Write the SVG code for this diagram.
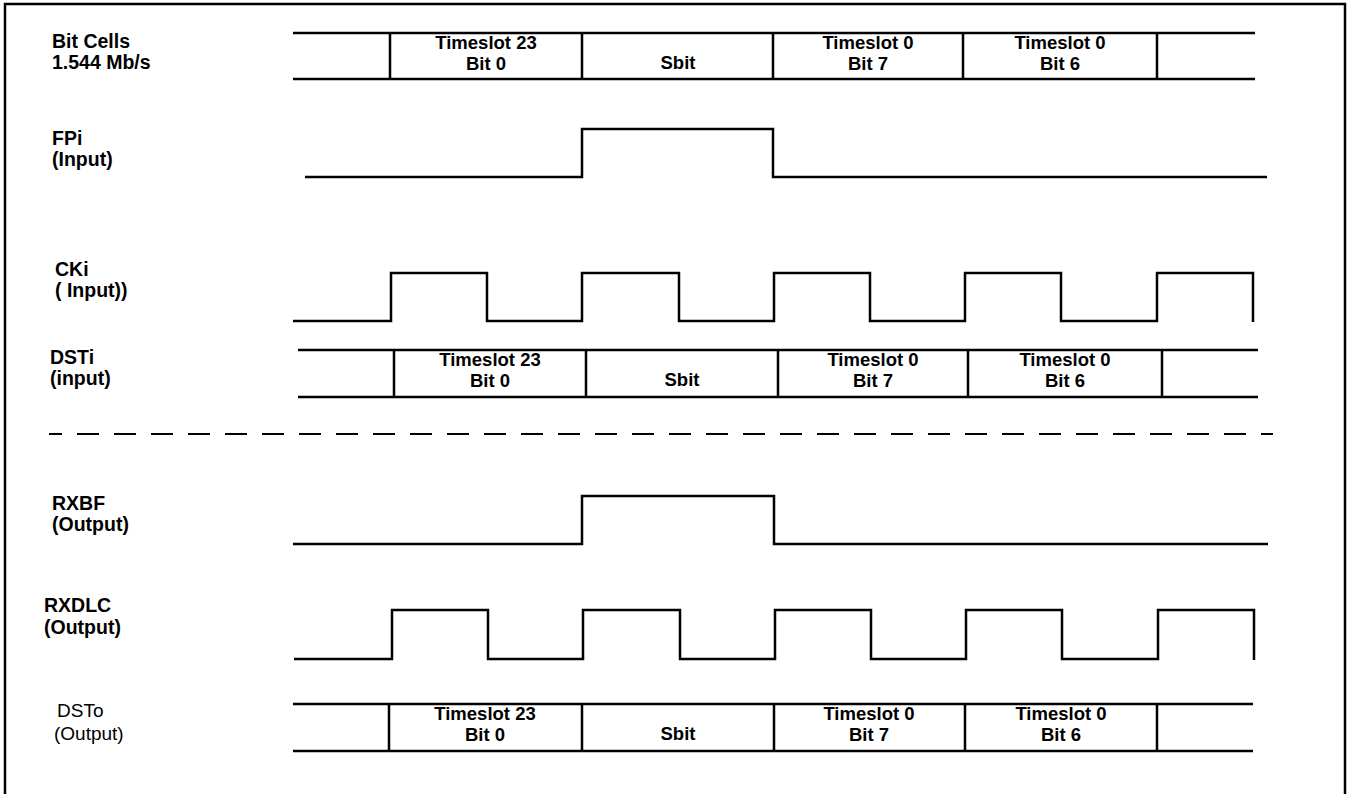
<svg xmlns="http://www.w3.org/2000/svg" width="1348" height="794" viewBox="0 0 1348 794">
<style>
.w{fill:none;stroke:#000;stroke-width:2.5;stroke-linejoin:miter;stroke-linecap:butt}
.d{fill:none;stroke:#000;stroke-width:2}
.lb{font-family:"Liberation Sans",Arial,sans-serif;font-size:19.5px;font-weight:bold;fill:#000}
.ln{font-family:"Liberation Sans",Arial,sans-serif;font-size:19px;fill:#000}
.c{font-family:"Liberation Sans",Arial,sans-serif;font-size:18.5px;font-weight:bold;fill:#000;text-anchor:middle}
</style>
<rect x="5" y="4" width="1340" height="800" fill="#fff" stroke="#000" stroke-width="2.5"/>
<g id="labels">
<text class="lb" x="52" y="48">Bit Cells</text>
<text class="lb" x="52" y="69">1.544 Mb/s</text>
<text class="lb" x="52" y="145">FPi</text>
<text class="lb" x="52" y="166">(Input)</text>
<text class="lb" x="55" y="276">CKi</text>
<text class="lb" x="55" y="297">( Input))</text>
<text class="lb" x="50" y="364">DSTi</text>
<text class="lb" x="50" y="385">(input)</text>
<text class="lb" x="52" y="510">RXBF</text>
<text class="lb" x="52" y="531">(Output)</text>
<text class="lb" x="44" y="612">RXDLC</text>
<text class="lb" x="44" y="634">(Output)</text>
<text class="ln" x="57" y="717">DSTo</text>
<text class="ln" x="54" y="740">(Output)</text>
</g>
<g id="bitcells">
<path class="w" d="M293 33H1255M293 79H1255M390 33V79M582 33V79M773 33V79M963 33V79M1157 33V79"/>
<text class="c" x="486" y="49">Timeslot 23</text>
<text class="c" x="486" y="70">Bit 0</text>
<text class="c" x="678" y="69">Sbit</text>
<text class="c" x="868" y="49">Timeslot 0</text>
<text class="c" x="868" y="70">Bit 7</text>
<text class="c" x="1060" y="49">Timeslot 0</text>
<text class="c" x="1060" y="70">Bit 6</text>
</g>
<g id="fpi">
<path class="w" d="M305 177H582V129H773V177H1267"/>
</g>
<g id="cki">
<path class="w" d="M293 321H391V273H487V321H582V273H679V321H774V273H870V321H965V273H1061V321H1157V273H1253V322"/>
</g>
<g id="dsti">
<path class="w" d="M298 350H1258M298 397H1258M394 350V397M586 350V397M778 350V397M968 350V397M1162 350V397"/>
<text class="c" x="490" y="366">Timeslot 23</text>
<text class="c" x="490" y="387">Bit 0</text>
<text class="c" x="682" y="386">Sbit</text>
<text class="c" x="873" y="366">Timeslot 0</text>
<text class="c" x="873" y="387">Bit 7</text>
<text class="c" x="1065" y="366">Timeslot 0</text>
<text class="c" x="1065" y="387">Bit 6</text>
</g>
<g id="connectors">
<line class="d" x1="49" y1="434" x2="1273" y2="434" stroke-dasharray="22 15" stroke-dashoffset="9"/>
</g>
<g id="rxbf">
<path class="w" d="M293 544H582V496H774V544H1268"/>
</g>
<g id="rxdlc">
<path class="w" d="M294 659H392V610H488V659H583V610H680V659H775V610H871V659H966V610H1062V659H1158V610H1254V660"/>
</g>
<g id="dsto">
<path class="w" d="M293 704H1253M293 751H1253M389 704V751M582 704V751M774 704V751M965 704V751M1157 704V751"/>
<text class="c" x="485" y="720">Timeslot 23</text>
<text class="c" x="485" y="741">Bit 0</text>
<text class="c" x="678" y="740">Sbit</text>
<text class="c" x="869" y="720">Timeslot 0</text>
<text class="c" x="869" y="741">Bit 7</text>
<text class="c" x="1061" y="720">Timeslot 0</text>
<text class="c" x="1061" y="741">Bit 6</text>
</g>
</svg>
